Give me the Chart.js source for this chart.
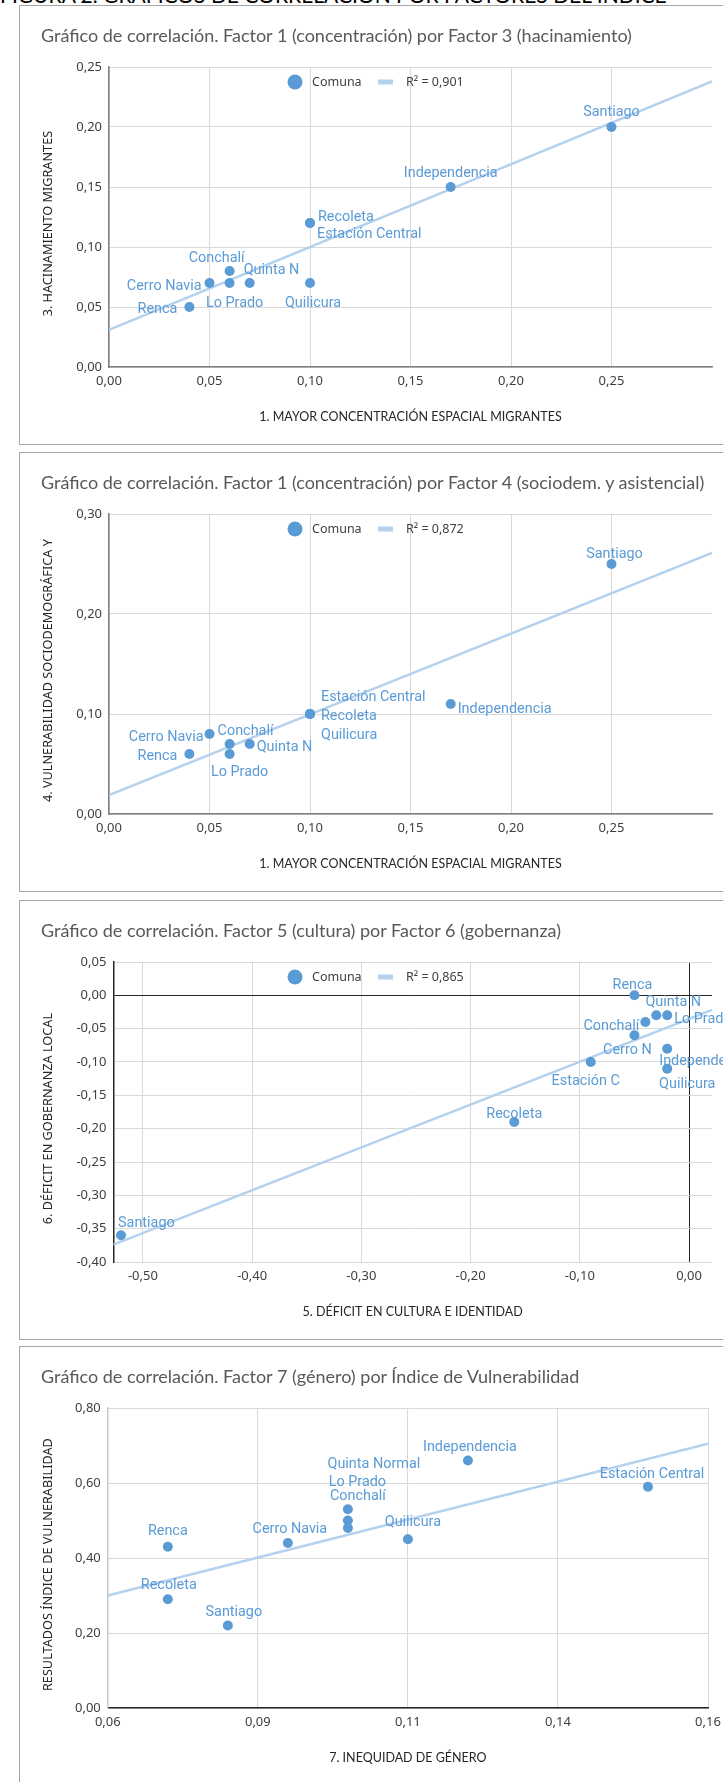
<!doctype html>
<html lang="es">
<head>
<meta charset="UTF-8">
<title>Gráficos de correlación por factores</title>
<script src="https://cdn.jsdelivr.net/npm/chart.js"></script>
<style>
  html, body { margin: 0; padding: 0; width: 723px; height: 1782px; overflow: hidden; background: #fff; }
  #head { position: absolute; left: 0; top: -16px; font: 21px Lato, sans-serif; line-height: 21px; color: #000; white-space: nowrap; }
  .box { position: absolute; left: 19px; width: 800px; height: 438px; border: 1px solid #a6a6a6; }
  .ttl { position: absolute; left: 41px; font: 18px Lato, sans-serif; line-height: 22px; color: #595959; white-space: nowrap; }
  canvas { position: absolute; left: 0; }
</style>
</head>
<body>
<div id="head">FIGURA 2. GRÁFICOS DE CORRELACIÓN POR FACTORES DEL ÍNDICE</div>

<script>
// --- chart 1: factor 1 vs factor 3
const names1 = ['Santiago', 'Independencia', 'Recoleta', 'Estación Central', 'Quilicura', 'Conchalí', 'Quinta N', 'Cerro Navia', 'Lo Prado', 'Renca'];
const x1 = [0.25, 0.17, 0.10, 0.10, 0.10, 0.06, 0.07, 0.05, 0.06, 0.04];
const y1 = [0.20, 0.15, 0.12, 0.12, 0.07, 0.08, 0.07, 0.07, 0.07, 0.05];
const trendX1 = [0, 0.30];
const trendY1 = [0.031, 0.238];

// --- chart 2: factor 1 vs factor 4
const names2 = ['Santiago', 'Independencia', 'Estación Central', 'Recoleta', 'Quilicura', 'Cerro Navia', 'Conchalí', 'Quinta N', 'Lo Prado', 'Renca'];
const x2 = [0.25, 0.17, 0.10, 0.10, 0.10, 0.05, 0.06, 0.07, 0.06, 0.04];
const y2 = [0.25, 0.11, 0.10, 0.10, 0.10, 0.08, 0.07, 0.07, 0.06, 0.06];
const trendX2 = [0, 0.30];
const trendY2 = [0.019, 0.261];

// --- chart 3: factor 5 vs factor 6
const names3 = ['Santiago', 'Recoleta', 'Estación C', 'Renca', 'Quinta N', 'Lo Prado', 'Conchalí', 'Cerro N', 'Independencia', 'Quilicura'];
const x3 = [-0.52, -0.16, -0.09, -0.05, -0.03, -0.02, -0.04, -0.05, -0.02, -0.02];
const y3 = [-0.36, -0.19, -0.10, 0.00, -0.03, -0.03, -0.04, -0.06, -0.08, -0.11];
const trendX3 = [-0.527, 0.021];
const trendY3 = [-0.374, -0.022];

// --- chart 4: factor 7 vs indice
const names4 = ['Independencia', 'Estación Central', 'Quinta Normal', 'Lo Prado', 'Conchalí', 'Quilicura', 'Cerro Navia', 'Renca', 'Recoleta', 'Santiago'];
const x4 = [0.12, 0.15, 0.10, 0.10, 0.10, 0.11, 0.09, 0.07, 0.07, 0.08];
const y4 = [0.66, 0.59, 0.53, 0.50, 0.48, 0.45, 0.44, 0.43, 0.29, 0.22];
const trendX4 = [0.06, 0.16];
const trendY4 = [0.30, 0.705];

// tick values and labels
const ticksF1 = [0, 0.05, 0.10, 0.15, 0.20, 0.25];
const labelsF1 = ['0,00', '0,05', '0,10', '0,15', '0,20', '0,25'];
const ticksF4 = [0, 0.10, 0.20, 0.30];
const labelsF4 = ['0,00', '0,10', '0,20', '0,30'];
const ticksF5 = [-0.50, -0.40, -0.30, -0.20, -0.10, 0];
const labelsF5 = ['-0,50', '-0,40', '-0,30', '-0,20', '-0,10', '0,00'];
const ticksF6 = [-0.40, -0.35, -0.30, -0.25, -0.20, -0.15, -0.10, -0.05, 0, 0.05];
const labelsF6 = ['-0,40', '-0,35', '-0,30', '-0,25', '-0,20', '-0,15', '-0,10', '-0,05', '0,00', '0,05'];
const ticksF7 = [0.06, 0.085, 0.11, 0.135, 0.16];
const labelsF7 = ['0,06', '0,09', '0,11', '0,14', '0,16'];
const ticksIdx = [0, 0.20, 0.40, 0.60, 0.80];
const labelsIdx = ['0,00', '0,20', '0,40', '0,60', '0,80'];

const BLUE = '#5b9bd5';
const TREND = '#b4d1ee';
const GRID = '#d9d9d9';
const W = 780, H = 440;

Chart.defaults.font.family = '"Noto Sans", sans-serif';

// data label placement (dx, dy, align) per point
const place1 = [[0, -15, 'center'], [0, -14, 'center'], [8, -6, 'left'], [7, 11, 'left'], [3, 20, 'center'],
  [-13, -13, 'center'], [-6, -13, 'left'], [-8, 3, 'right'], [5, 20, 'center'], [-12, 2, 'right']];
const place2 = [[3, -10, 'center'], [7, 5, 'left'], [11, -17, 'left'], [11, 2, 'left'], [11, 21, 'left'],
  [-6, 3, 'right'], [-12, -13, 'left'], [7, 3, 'left'], [10, 18, 'center'], [-12, 2, 'right']];
const place3 = [[-3, -12, 'left'], [0, -8, 'center'], [-5, 19, 'center'], [-2, -10, 'center'], [17, -13, 'center'],
  [7, 4, 'left'], [-6, 4, 'right'], [-7, 15, 'center'], [-8, 13, 'left'], [20, 16, 'center']];
const place4 = [[2, -13.5, 'center'], [4, -12, 'center'], [26, -44.5, 'center'], [9.5, -38.5, 'center'], [10, -31.6, 'center'],
  [5, -17, 'center'], [2, -14, 'center'], [0, -15, 'center'], [1, -13.5, 'center'], [6, -13, 'center']];

const pointLabels = {
  id: 'pointLabels',
  afterDatasetsDraw(chart, args, opts) {
    const ctx = chart.ctx;
    const pts = chart.getDatasetMeta(0).data;
    ctx.save();
    ctx.font = '14.4px Roboto';
    ctx.fillStyle = BLUE;
    ctx.textBaseline = 'middle';
    pts.forEach((p, i) => {
      const o = opts.place[i];
      ctx.textAlign = o[2];
      ctx.fillText(opts.names[i], p.x + o[0], p.y + o[1]);
    });
    ctx.restore();
  }
};

// legend drawn inside the plot area, like the excel one
const innerLegend = {
  id: 'innerLegend',
  afterDraw(chart, args, opts) {
    if (!opts.show) return;
    const ctx = chart.ctx;
    const ds = chart.data.datasets;
    const x = 295, y = chart.chartArea.top + 15;
    ctx.save();
    ctx.fillStyle = BLUE;
    ctx.beginPath();
    ctx.arc(x, y, 7.5, 0, Math.PI * 2);
    ctx.fill();
    ctx.fillStyle = TREND;
    ctx.fillRect(x + 83, y - 2.5, 15, 5);
    ctx.font = '12.5px "Noto Sans"';
    ctx.fillStyle = '#404040';
    ctx.textBaseline = 'middle';
    ctx.textAlign = 'left';
    ctx.fillText(ds[0].label, x + 17, y);
    ctx.fillText(ds[1].label, x + 111, y);
    ctx.restore();
  }
};

function makeChart(c) {
  const box = document.createElement('div');
  box.className = 'box';
  box.style.top = c.top + 'px';
  document.body.appendChild(box);

  const cv = document.createElement('canvas');
  cv.width = W; cv.height = H;
  cv.style.top = c.top + 'px';
  document.body.appendChild(cv);

  const ttl = document.createElement('div');
  ttl.className = 'ttl';
  ttl.style.top = (c.top + 19) + 'px';
  ttl.textContent = c.title;
  document.body.appendChild(ttl);

  const gridColor = (ctx) => (c.zeroDark && ctx.tick && ctx.tick.value === 0) ? '#262626' : GRID;

  new Chart(cv, {
    type: 'scatter',
    data: {
      datasets: [{
        label: 'Comuna',
        data: c.xs.map((v, i) => ({x: v, y: c.ys[i]})),
        backgroundColor: BLUE,
        borderWidth: 0,
        pointRadius: 5,
        pointHoverRadius: 5
      }, {
        label: c.r2,
        data: c.tx.map((v, i) => ({x: v, y: c.ty[i]})),
        showLine: true,
        borderColor: TREND,
        borderWidth: 2.5,
        pointRadius: 0
      }]
    },
    options: {
      responsive: false,
      animation: false,
      layout: {padding: {left: 0, top: 62, right: W - c.right, bottom: 0}},
      plugins: {
        legend: {display: false},
        tooltip: {enabled: false},
        pointLabels: {names: c.names, place: c.place},
        innerLegend: {show: c.legend}
      },
      scales: {
        x: {
          type: 'linear',
          min: c.xMin, max: c.xMax,
          afterBuildTicks: s => { s.ticks = c.xTicks.map(v => ({value: v})); },
          afterFit: s => { s.height = 78; },
          ticks: {autoSkip: false, maxRotation: 0, padding: 6, font: {size: 13}, color: '#404040',
            callback: (v, i) => c.xLabels[i]},
          grid: {color: gridColor, drawTicks: false},
          border: {display: !!c.xBorder, color: c.xBorder, width: 1.5},
          title: {display: true, text: c.xTitle, color: '#262626',
            font: {family: 'Lato', size: 12.5}, padding: {top: 0, bottom: 21}}
        },
        y: {
          type: 'linear',
          min: c.yMin, max: c.yMax,
          afterBuildTicks: s => { s.ticks = c.yTicks.map(v => ({value: v})); },
          afterFit: s => { s.width = c.left; },
          ticks: {autoSkip: false, padding: 7, font: {size: 13}, color: '#404040',
            callback: (v, i) => c.yLabels[i]},
          grid: {color: gridColor, drawTicks: false},
          border: {display: true, color: c.yBorder, width: 1.5},
          title: {display: true, text: c.yTitle + '    ', color: '#262626',
            font: {family: '"Noto Sans"', size: 12.7}, padding: {top: 41, bottom: 0}}
        }
      }
    },
    plugins: [pointLabels, innerLegend]
  });
}

makeChart({
  top: 5, title: 'Gráfico de correlación. Factor 1 (concentración) por Factor 3 (hacinamiento)',
  names: names1, xs: x1, ys: y1, tx: trendX1, ty: trendY1, r2: 'R² = 0,901', place: place1, legend: true,
  xMin: 0, xMax: 0.30, xTicks: ticksF1, xLabels: labelsF1,
  yMin: 0, yMax: 0.25, yTicks: ticksF1, yLabels: labelsF1,
  left: 109, right: 712, xBorder: '#7f7f7f', yBorder: '#7f7f7f',
  xTitle: '1. MAYOR CONCENTRACIÓN ESPACIAL MIGRANTES', yTitle: '3. HACINAMIENTO MIGRANTES'
});

makeChart({
  top: 452, title: 'Gráfico de correlación. Factor 1 (concentración) por Factor 4 (sociodem. y asistencial)',
  names: names2, xs: x2, ys: y2, tx: trendX2, ty: trendY2, r2: 'R² = 0,872', place: place2, legend: true,
  xMin: 0, xMax: 0.30, xTicks: ticksF1, xLabels: labelsF1,
  yMin: 0, yMax: 0.30, yTicks: ticksF4, yLabels: labelsF4,
  left: 109, right: 712, xBorder: '#7f7f7f', yBorder: '#7f7f7f',
  xTitle: '1. MAYOR CONCENTRACIÓN ESPACIAL MIGRANTES', yTitle: '4. VULNERABILIDAD SOCIODEMOGRÁFICA Y'
});

makeChart({
  top: 900, title: 'Gráfico de correlación. Factor 5 (cultura) por Factor 6 (gobernanza)',
  names: names3, xs: x3, ys: y3, tx: trendX3, ty: trendY3, r2: 'R² = 0,865', place: place3, legend: true,
  xMin: -0.527, xMax: 0.021, xTicks: ticksF5, xLabels: labelsF5,
  yMin: -0.40, yMax: 0.05, yTicks: ticksF6, yLabels: labelsF6,
  left: 113.4, right: 712, xBorder: null, yBorder: '#262626', zeroDark: true,
  xTitle: '5. DÉFICIT EN CULTURA E IDENTIDAD', yTitle: '6. DÉFICIT EN GOBERNANZA LOCAL'
});

makeChart({
  top: 1346, title: 'Gráfico de correlación. Factor 7 (género) por Índice de Vulnerabilidad',
  names: names4, xs: x4, ys: y4, tx: trendX4, ty: trendY4, r2: '', place: place4, legend: false,
  xMin: 0.06, xMax: 0.16, xTicks: ticksF7, xLabels: labelsF7,
  yMin: 0, yMax: 0.80, yTicks: ticksIdx, yLabels: labelsIdx,
  left: 107.8, right: 708, xBorder: '#262626', yBorder: '#c8c8c8',
  xTitle: '7. INEQUIDAD DE GÉNERO', yTitle: 'RESULTADOS ÍNDICE DE VULNERABILIDAD'
});
</script>
</body>
</html>
